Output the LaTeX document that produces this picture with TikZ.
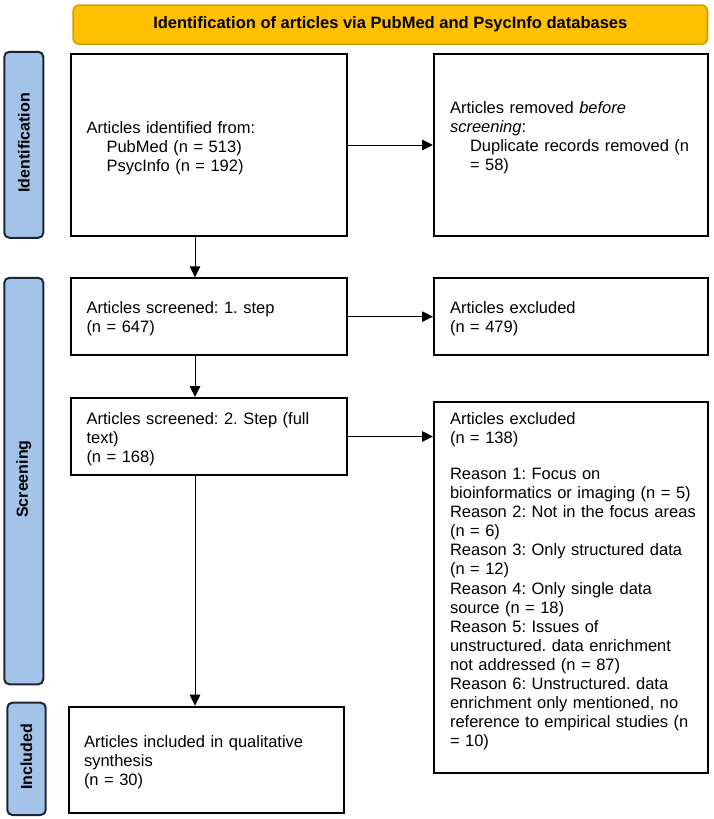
\documentclass[tikz,border=0pt]{standalone}
\usepackage{fontspec}
\setmainfont{Liberation Sans}
\usetikzlibrary{arrows.meta}
\definecolor{gold}{HTML}{FFC000}
\definecolor{goldline}{HTML}{CF9F00}
\definecolor{lblue}{HTML}{A3C3E8}
\definecolor{lline}{HTML}{1C2633}
\frenchspacing
\begin{document}
\begin{tikzpicture}[x=1pt,y=-1pt,
  box/.style={draw=black, line width=2pt, fill=white, inner sep=0pt, outer sep=0pt, anchor=north west},
  side/.style={draw=lline, line width=2pt, fill=lblue, rounded corners=5pt, inner sep=0pt, outer sep=0pt, anchor=north west},
  sidetxt/.style={rotate=90, font=\bfseries\fontsize{16}{19}\selectfont, inner sep=0pt, xshift=2pt},
  txt/.style={anchor=base west, inner sep=0pt, outer sep=0pt, text width=262pt, align=left, font=\fontsize{16.5}{19.1}\selectfont},
  arr/.style={line width=1pt, -{Triangle[length=11pt,width=10.5pt]}, shorten >=1pt}
]
\useasboundingbox (0,0) rectangle (714,819);

% banner
\node[draw=goldline, line width=1.6pt, fill=gold, rounded corners=6pt, inner sep=0pt,
      minimum width=634.4pt, minimum height=39pt, anchor=north west,
      font=\bfseries\fontsize{16.5}{19}\selectfont] (banner) at (72.3,4.3)
      {Identification of articles via PubMed and PsycInfo databases};

% side labels
\node[side, minimum width=39pt, minimum height=186pt] (idlab) at (4.3,51.8) {};
\node[sidetxt] (idtxt) at (idlab.center) {Identification};
\node[side, minimum width=39pt, minimum height=406.5pt] (scrlab) at (4.3,277.8) {};
\node[sidetxt] (scrtxt) at (scrlab.center) {Screening};
\node[side, minimum width=38.4pt, minimum height=112.3pt] (inclab) at (7.3,702.7) {};
\node[sidetxt] (inctxt) at (inclab.center) {Included};

% boxes
\node[box, minimum width=275.7pt, minimum height=181.4pt] (b1) at (71,54.3) {};
\node[box, minimum width=274.3pt, minimum height=181.4pt] (r1) at (434,54.3) {};
\node[box, minimum width=275.7pt, minimum height=76.7pt] (b2) at (71,278.3) {};
\node[box, minimum width=274.3pt, minimum height=76.7pt] (r2) at (434,278.3) {};
\node[box, minimum width=275.7pt, minimum height=77pt] (b3) at (71,398) {};
\node[box, minimum width=274.3pt, minimum height=371pt] (r3) at (434,401.7) {};
\node[box, minimum width=275pt, minimum height=106pt] (b4) at (69,706.7) {};

% texts
\node[txt] (t1) at (86.5,133.2) {Articles identified from:\\
  \hspace*{20pt}PubMed (n = 513)\\
  \hspace*{20pt}PsycInfo (n = 192)};
\node[txt] (tr1) at (450,113.2) {Articles removed \textit{before}\\
  \textit{screening}:\\
  \hspace*{20pt}Duplicate records removed (n\\
  \hspace*{20pt}= 58)};
\node[txt] (t2) at (86.5,313) {Articles screened: 1. step\\(n = 647)};
\node[txt] (tr2) at (450,313) {Articles excluded\\(n = 479)};
\node[txt] (t3) at (86.5,424.3) {Articles screened: 2. Step (full\\text)\\(n = 168)};
\node[txt] (tr3) at (450,424.3) {Articles excluded\\(n = 138)\\[16.9pt]
  Reason 1: Focus on\\
  bioinformatics or imaging (n = 5)\\
  Reason 2: Not in the focus areas\\
  (n = 6)\\
  Reason 3: Only structured data\\
  (n = 12)\\
  Reason 4: Only single data\\
  source (n = 18)\\
  Reason 5: Issues of\\
  unstructured. data enrichment\\
  not addressed (n = 87)\\
  Reason 6: Unstructured. data\\
  enrichment only mentioned, no\\
  reference to empirical studies (n\\
  = 10)};
\node[txt] (t4) at (84,747.3) {Articles included in qualitative\\synthesis\\(n = 30)};

% connectors
\coordinate (ax) at (195,0);
\draw[arr] (b1.south -| ax) -- (b2.north -| ax);
\draw[arr] (b2.south -| ax) -- (b3.north -| ax);
\draw[arr] (b3.south -| ax) -- (b4.north -| ax);
\draw[arr] (b1.east) -- (b1.east -| r1.west);
\draw[arr] (b2.east) -- (b2.east -| r2.west);
\draw[arr] (b3.east) -- (b3.east -| r3.west);
\end{tikzpicture}
\end{document}
